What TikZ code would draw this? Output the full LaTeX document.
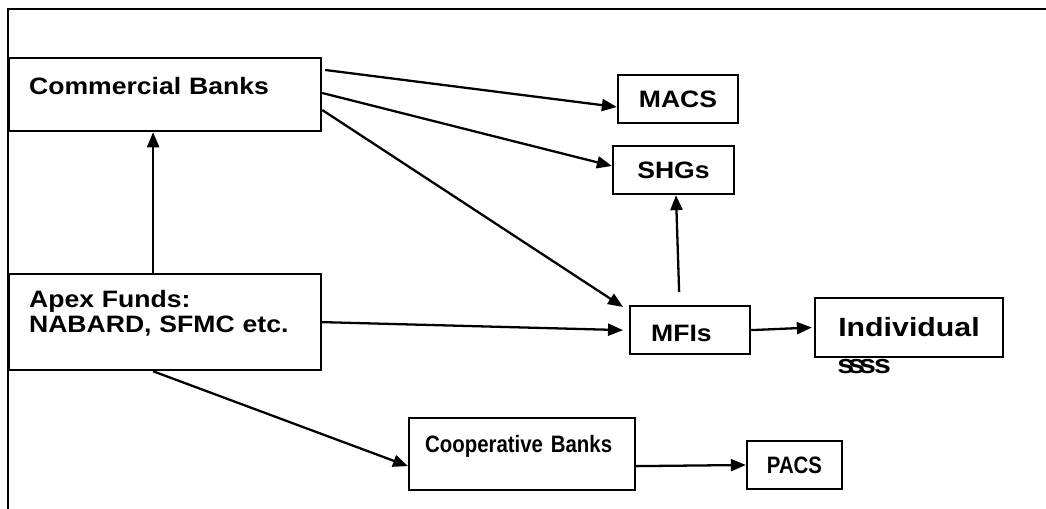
\documentclass[tikz,border=0pt]{standalone}
\usepackage{fontspec}
\setmainfont{Liberation Sans}[FakeStretch=1.12]
\newfontfamily\narrowfont{Liberation Sans}[FakeStretch=0.86]
\newfontfamily\widefont{Liberation Sans}[FakeStretch=1.15]
\usetikzlibrary{positioning}
\usetikzlibrary{calc}
\usetikzlibrary{arrows.meta}

\begin{document}
\begin{tikzpicture}[
        x=0.02cm, y=-0.02cm,
        every node/.style={font=\fontsize{13.5}{14.2}\selectfont\bfseries},
        box/.style={draw, line width=1.3pt, rectangle},
        leftbox/.style={box, anchor=north west, inner ysep=0pt, align=left},
        arr/.style={line width=1.3pt, -{Triangle[length=0.3cm, width=0.24cm]}},
    ]
        \useasboundingbox (0,0) rectangle (1046,509);
        % Frame
        \coordinate (fbl) at (8,509);
        \coordinate (ftl) at (8,9);
        \coordinate (ftr) at (1046,9);
        \draw[line width=1.3pt] (fbl) -- (ftl) -- (ftr);

        % Boxes
        \node[leftbox, text width=5.44cm, inner xsep=0.4cm, text height=0.72cm, text depth=0.74cm] (comm) at (8,57) {Commercial Banks};
        \node[leftbox, text width=5.44cm, inner xsep=0.4cm, text height=0.66cm, text depth=1.26cm] (apex) at (8,273) {Apex Funds:\\NABARD, SFMC etc.};
        \node[box, minimum width=2.4cm, minimum height=0.96cm] (macs) at (678,99) {MACS};
        \node[box, minimum width=2.42cm, minimum height=0.96cm] (shgs) at (673.5,170) {SHGs};
        \node[leftbox, text width=1.56cm, inner xsep=0.42cm, text height=0.7cm, text depth=0.26cm] (mfis) at (629,305) {MFIs};
        \node[box, minimum width=3.76cm, minimum height=1.18cm, font=\widefont\fontsize{15}{18}\selectfont\bfseries] (indiv) at (909,327.5) {Individual};
        \node[anchor=base west, inner sep=0pt, font=\widefont\fontsize{15}{18}\selectfont\bfseries] (ssss) at (837,374) {s\kern-3.4pt s\kern-3.4pt s\kern-1pt s};
        \node[leftbox, text width=3.88cm, inner xsep=0.32cm, text height=0.68cm, text depth=0.76cm, font=\narrowfont\fontsize{13.5}{14.2}\selectfont\bfseries] (coop) at (408,417) {Cooperative Banks};
        \node[box, minimum width=1.9cm, minimum height=0.96cm, font=\narrowfont\fontsize{13.5}{14.2}\selectfont\bfseries] (pacs) at (794.5,465) {PACS};

        % Edges
        \draw[arr] ([xshift=-0.24cm]apex.north) -- ([xshift=-0.24cm]comm.south);
        \draw[arr] ([xshift=0.06cm, yshift=-0.26cm]comm.north east) -- ([yshift=-0.16cm]macs.west);
        \draw[arr] ([yshift=-0.72cm]comm.north east) -- ([yshift=0.08cm]shgs.west);
        \draw[arr] ([yshift=-1.06cm]comm.north east) -- ([xshift=-0.12cm, yshift=-0.04cm]mfis.north west);
        \draw[arr] (apex.east) -- ([xshift=-0.12cm]mfis.west);
        \draw[arr] ([xshift=-0.22cm, yshift=0.26cm]mfis.north) -- ([xshift=0.05cm]shgs.south);
        \draw[arr] (mfis.east) -- ([xshift=-0.04cm]indiv.west);
        \draw[arr] ([xshift=-0.24cm]apex.south) -- ([yshift=-0.24cm]coop.west);
        \draw[arr] ([yshift=-0.24cm]coop.east) -- (pacs.west);

    \end{tikzpicture}
\end{document}
